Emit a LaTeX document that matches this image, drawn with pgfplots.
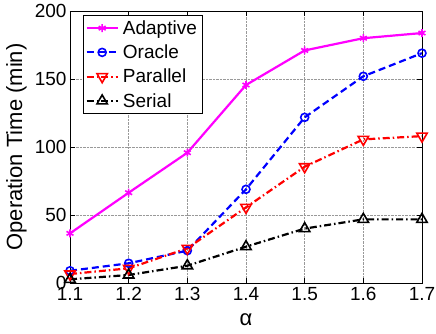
\documentclass[border=0pt]{standalone}
\usepackage{fontspec}
\setmainfont{Liberation Sans}
\usepackage{pgfplots}
\pgfplotsset{compat=1.18}
\definecolor{mmag}{RGB}{255,0,255}
\definecolor{mblue}{RGB}{0,0,255}
\definecolor{mred}{RGB}{255,0,0}
\begin{document}
\begin{tikzpicture}
\path[use as bounding box] (-70pt,-50pt) rectangle (366pt,283pt);
\begin{axis}[
  at={(0,0)}, anchor=south west,
  scale only axis, width=352pt, height=272pt,
  xmin=1.1, xmax=1.7, ymin=0, ymax=200,
  xtick={1.1,1.2,1.3,1.4,1.5,1.6,1.7},
  ytick={0,50,100,150,200},
  xticklabel style={/pgf/number format/fixed, /pgf/number format/fixed zerofill, /pgf/number format/precision=1},
  /pgf/number format/assume math mode=true,
  grid=major, major grid style={densely dotted, gray!80, line width=0.6pt},
  tick align=inside, xtick pos=both, ytick pos=both,
  major tick length=5pt,
  axis line style={line width=0.9pt},
  tick style={line width=0.8pt, black},
  tick label style={font=\fontsize{19}{21}\selectfont},
  xticklabel style={yshift=-1pt},
  xlabel={α}, ylabel={Operation Time (min)},
  every axis x label/.style={at={(axis description cs:0.5,-0.136)}, anchor=center, font=\fontsize{22}{24}\selectfont},
  every axis y label/.style={at={(axis description cs:-0.152,0.5)}, rotate=90, anchor=center, font=\fontsize{22}{24}\selectfont},
  legend style={at={(0.037,0.985)}, anchor=north west, font=\fontsize{19}{22}\selectfont, draw=black, line width=0.8pt, inner xsep=2pt, inner ysep=3pt, row sep=5pt},
  legend cell align=left,
  legend image code/.code={\draw[mark repeat=2,mark phase=2] plot coordinates {(0cm,0cm)(0.55cm,0cm)(1.1cm,0cm)};},
  legend style={nodes={inner xsep=4pt}},
]
\addplot[mmag, line width=2.2pt, mark=asterisk, mark size=4pt, mark options={solid, line width=1.6pt}] coordinates {
(1.1,36.5)(1.2,66.4)(1.3,95.8)(1.4,145.6)(1.5,171)(1.6,180)(1.7,183.8)};
\addlegendentry{Adaptive}
\addplot[mblue, line width=2.2pt, dash pattern=on 7pt off 4pt, mark=o, mark size=4pt, mark options={solid, line width=1.6pt}] coordinates {
(1.1,9)(1.2,14.5)(1.3,23.8)(1.4,68.9)(1.5,121.8)(1.6,152)(1.7,169)};
\addlegendentry{Oracle}
\addplot[mred, line width=2.2pt, dash pattern=on 7pt off 3pt on 1.5pt off 3pt, mark=triangle, mark size=6pt, mark options={solid, rotate=180, line width=1.6pt}] coordinates {
(1.1,6.6)(1.2,10.8)(1.3,25.5)(1.4,55.6)(1.5,85.5)(1.6,105.6)(1.7,108)};
\addlegendentry{Parallel}
\addplot[black, line width=2.2pt, dash pattern=on 7pt off 3pt on 1.5pt off 3pt, mark=triangle, mark size=6pt, mark options={solid, line width=1.6pt}] coordinates {
(1.1,2.7)(1.2,5.9)(1.3,12.7)(1.4,26.7)(1.5,40)(1.6,46.8)(1.7,46.8)};
\addlegendentry{Serial}
\end{axis}
\end{tikzpicture}
\end{document}
